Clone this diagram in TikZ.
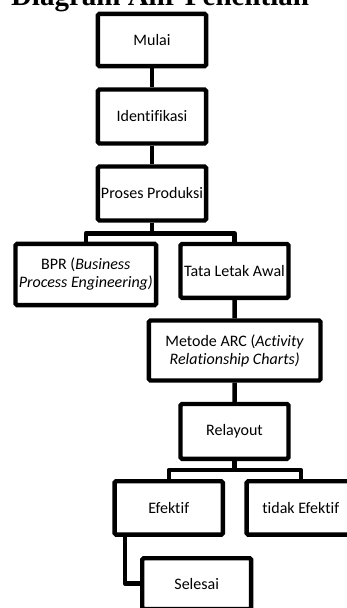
\documentclass[tikz,border=0pt]{standalone}
\usepackage{fontspec}
\setmainfont{Carlito}[RawFeature={-liga;-clig;-calt;-dlig}]
\newfontfamily\titlefont{Liberation Serif}
\begin{document}
\begin{tikzpicture}[x=1pt,y=-1pt,
  box/.style={draw, line width=4.4pt, rounded corners=1.5pt, align=center,
    font=\fontsize{16}{18}\selectfont, inner sep=0pt},
  link/.style={line width=4.4pt, line join=round}]
\useasboundingbox (0,0) rectangle (347,608);
\node[anchor=base, font=\titlefont\bfseries\fontsize{29}{30}\selectfont] (title) at (160,5) {Diagram Alir Penelitian};
\node[box, minimum width=108.2pt, minimum height=52.2pt] (mulai) at (152,40) {Mulai};
\node[box, minimum width=108.2pt, minimum height=54pt] (ident) at (152,116.5) {Identifikasi};
\node[box, minimum width=108.2pt, minimum height=54pt] (proses) at (152,193.5) {Proses Produksi};
\node[box, minimum width=140.6pt, minimum height=61.2pt] (bpr) at (85.8,274.5) {BPR (\textit{Business}\\\textit{Process Engineering)}};
\node[box, minimum width=108pt, minimum height=53.9pt] (tata) at (234.5,270.9) {Tata Letak Awal};
\node[box, minimum width=171.6pt, minimum height=60pt] (arc) at (234.7,350.5) {Metode ARC (\textit{Activity}\\\textit{Relationship Charts)}};
\node[box, minimum width=108pt, minimum height=54.9pt] (relayout) at (234.5,431.4) {Relayout};
\node[box, minimum width=108.3pt, minimum height=53.3pt] (efektif) at (168.7,507.9) {Efektif};
\node[box, minimum width=108.3pt, minimum height=53.3pt] (tidak) at (300.8,507.9) {tidak Efektif};
\node[box, minimum width=108.9pt, minimum height=50.8pt] (selesai) at (196.7,583.6) {Selesai};
\coordinate (b1) at (152,233.3);
\coordinate (b2) at (234.5,470);
\coordinate (e1) at (125,0);
\draw[link] (mulai) -- (ident);
\draw[link] (ident) -- (proses);
\draw[link] (proses.south) -- (b1);
\draw[link] (bpr.north) |- (tata.north |- b1) -- (tata.north);
\draw[link] (tata) -- (arc);
\draw[link] (arc) -- (relayout);
\draw[link] (relayout.south) -- (b2);
\draw[link] (efektif.north) |- (tidak.north |- b2) -- (tidak.north);
\draw[link] (efektif.south -| e1) |- (selesai.west);
\end{tikzpicture}
\end{document}
